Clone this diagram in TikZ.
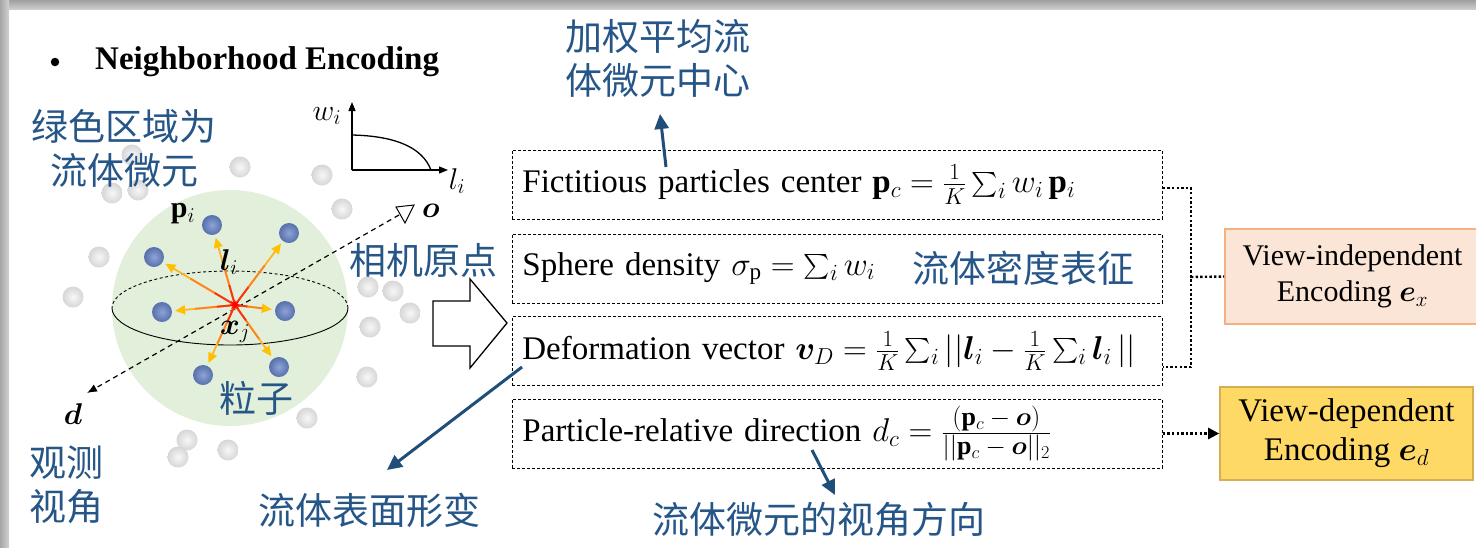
\RequirePackage{fix-cm}
\documentclass[tikz,border=0pt]{standalone}
\usepackage{amsmath,bm}
\usepackage{fontspec}
\setmainfont{Liberation Serif}
\newfontfamily\cjk{Noto Sans CJK SC}
\usetikzlibrary{arrows.meta,calc,shapes.geometric}

\definecolor{cblue}{RGB}{31,78,121}
\definecolor{cjkblue}{RGB}{38,86,136}
\definecolor{spherecol}{RGB}{226,239,218}
\definecolor{vifill}{RGB}{251,229,214}
\definecolor{vidraw}{RGB}{244,177,131}
\definecolor{vdfill}{RGB}{255,217,102}
\definecolor{vddraw}{RGB}{214,176,80}
\definecolor{amber}{RGB}{255,192,0}
\definecolor{rayA}{RGB}{255,180,40}
\definecolor{rayB}{RGB}{255,130,30}
\definecolor{rayC}{RGB}{250,50,20}

% larger pieces for the direction fraction
\newcommand{\fracpart}[1]{\mbox{\fontsize{26}{26}\selectfont$#1$}}

\begin{document}
\begin{tikzpicture}[x=1pt,y=-1pt,
  eqbox/.style={draw, line width=0.8pt, dash pattern=on 3pt off 2pt,
    text width=630pt, inner xsep=10pt, inner ysep=0pt, minimum height=69pt,
    align=left, anchor=west, font=\fontsize{33}{40}\selectfont},
  cjklab/.style={font=\cjk\fontsize{37}{44}\selectfont, text=cjkblue,
    align=center, inner sep=0pt},
  mathlab/.style={font=\fontsize{30}{34}\selectfont, inner sep=0pt},
  bluep/.style={circle, inner sep=0pt, minimum size=20pt,
    inner color={rgb,255:red,140;green,164;blue,214},
    outer color={rgb,255:red,88;green,112;blue,172}},
  grayp/.style={circle, inner sep=0pt, minimum size=21pt,
    inner color=gray!6, outer color=gray!32},
  bluearrow/.style={draw=cblue, line width=3pt,
    -{Triangle[length=15pt,width=14pt]}},
  dotline/.style={line width=2.4pt, dash pattern=on 2.4pt off 2.2pt},
  encbox/.style={align=center, inner sep=0pt, line width=1.6pt}
]
\useasboundingbox (0,0) rectangle (1476,547);
\fill[white] (0,0) rectangle (1476,547);

% ---------- heading ----------
\node[circle, fill=black, inner sep=0pt, minimum size=8.5pt] (bul) at (55,62) {};
\node[anchor=west, font=\bfseries\fontsize{33}{40}\selectfont, inner sep=0pt]
  (head) at (95,62) {Neighborhood Encoding};

% ---------- surrounding particles ----------
\foreach \n/\p in {g1/{(132,155)}, g2/{(112,193)}, g3/{(138,190)},
  g4/{(240,167)}, g5/{(322,175)}, g6/{(342,209)}, g7/{(99,257)},
  g8/{(73,297)}, g9/{(368,287)}, g10/{(393,291)}, g11/{(410,313)},
  g12/{(370,327)}, g13/{(367,377)}, g14/{(307,418)}, g15/{(187,440)},
  g16/{(178,457)}, g17/{(228,450)}}
  \node[grayp] (\n) at \p {};

% ---------- fluid element sphere ----------
\fill[spherecol] (230,308) circle[radius=118];
\draw[line width=0.9pt, dash pattern=on 3pt off 2.5pt]
  (348,308) arc[start angle=0, end angle=-180, x radius=118, y radius=37];
\draw[line width=0.9pt]
  (348,308) arc[start angle=0, end angle=180, x radius=118, y radius=37];

% viewing direction through the element
\coordinate (cam) at (399,215);
\coordinate (dtip) at (87,393);
\draw[line width=1.2pt, dash pattern=on 5pt off 4pt,
  -{Latex[length=10pt,width=8pt]}] (cam) -- (dtip);
\draw[line width=1pt, fill=white] (396,207) -- (414,205) -- (405,223) -- cycle;
\node[mathlab] (olab) at (431,211) {$\bm{o}$};
\node[mathlab] (dlab) at (73,414) {$\bm{d}$};

% neighbour particles and offsets l_i
\foreach \n/\p in {b1/{(212,225)}, b2/{(289,233)}, b3/{(154,257)},
  b4/{(162,312)}, b5/{(285,311)}, b6/{(203,375)}, b7/{(279,367)}}
  \node[bluep] (\n) at \p {};
\coordinate (xj) at (235,305);
\foreach \n in {b1,b2,b3,b4,b5,b6,b7}{
  \draw[rayA, line width=1.8pt, shorten >=3pt,
    -{Triangle[length=10pt,width=9pt,fill=amber,color=amber]}] (xj) -- (\n);
  \draw[rayB, line width=1.8pt] (xj) -- ($(xj)!0.55!(\n)$);
  \draw[rayC, line width=1.8pt] (xj) -- ($(xj)!0.25!(\n)$);
}
\node[star, star points=8, star point ratio=2.4, fill=red, inner sep=0pt,
  minimum size=11pt] (xjc) at (xj) {};
\node[mathlab] (plab) at (183,214) {$\mathbf{p}_i$};
\node[mathlab] (llab) at (229,262) {$\bm{l}_i$};
\node[mathlab] (xlab) at (235,332) {$\bm{x}_j$};

% weight fall-off sketch
\coordinate (gorig) at (352,170);
\coordinate (gy) at (352,102);
\coordinate (gx) at (448,170);
\draw[line width=1.3pt, -{Triangle[length=9pt,width=7pt]}] (gorig) -- (gy);
\draw[line width=1.3pt, -{Triangle[length=9pt,width=7pt]}] (gorig) -- (gx);
\draw[line width=1.3pt] (352,135) .. controls (395,136) and (422,147) .. (431,170);
\node[mathlab] (wlab) at (327,116) {$w_i$};
\node[mathlab] (lilab) at (457,181) {$l_i$};

% ---------- annotations on the left ----------
\node[cjklab] (green) at (124,148) {绿色区域为\\流体微元};
\node[cjklab] (parts) at (256,398) {粒子};
\node[cjklab] (cam0) at (423,260) {相机原点};
\node[cjklab] (view) at (67,485) {观测\\视角};

% ---------- hollow arrow ----------
\draw[line width=1.3pt, fill=white] (433,301) -- (470,301) -- (470,279)
  -- (507,323) -- (470,368) -- (470,346) -- (433,346) -- cycle;

% ---------- feature boxes ----------
\node[eqbox] (box1) at (512,184.5)
  {Fictitious particles center $\mathbf{p}_c = \frac{1}{K}\sum_i w_i\,\mathbf{p}_i$};
\node[eqbox] (box2) at (512,268.5)
  {Sphere density $\sigma_{\mathrm{p}} = \sum_i w_i$};
\node[cjklab] (dens) at (1023,268) {流体密度表征};
\node[eqbox] (box3) at (512,351)
  {Deformation vector $\bm{v}_D = \frac{1}{K}\sum_i ||\bm{l}_i - \frac{1}{K}\sum_i \bm{l}_i\,||$};
\node[eqbox] (box4) at (512,433.5)
  {Particle-relative direction $d_c = \frac{\fracpart{(\mathbf{p}_c - \bm{o})}}{\fracpart{||\mathbf{p}_c - \bm{o}||_2}}$};

% ---------- encodings ----------
\node[encbox, draw=vidraw, fill=vifill, minimum width=255pt, minimum height=95pt,
  font=\fontsize{30}{36}\selectfont] (vi) at (1352.5,276.5)
  {View-independent\\Encoding $\bm{e}_x$};
\node[encbox, draw=vddraw, fill=vdfill, minimum width=253pt, minimum height=93pt,
  font=\fontsize{33}{39}\selectfont] (vd) at (1346.5,433.5)
  {View-dependent\\Encoding $\bm{e}_d$};

\coordinate (jn) at (1191,277);
\draw[dotline] ([yshift=-3.5pt]box1.east) -| (jn) |- ([yshift=-16pt]box3.east);
\draw[dotline] (jn) -- (vi.west);
\draw[dotline, -{Triangle[length=11pt,width=11pt]}] (box4.east) -- (vd.west);

% ---------- callouts ----------
\node[cjklab] (center) at (658,58) {加权平均流\\体微元中心};
\node[cjklab] (surf) at (369,510) {流体表面形变};
\node[cjklab] (dirn) at (819,519) {流体微元的视角方向};
\coordinate (c1s) at (666,167);
\coordinate (c1e) at (660,114);
\coordinate (c2s) at (522,367);
\coordinate (c2e) at (387,470);
\coordinate (c3s) at (812,450);
\coordinate (c3e) at (835,495);
\draw[bluearrow] (c1s) -- (c1e);
\draw[bluearrow] (c2s) -- (c2e);
\draw[bluearrow] (c3s) -- (c3e);

% ---------- window frame shadow ----------
\shade[top color=gray!75, bottom color=gray!40] (0,0) rectangle (1476,9);
\shade[left color=gray!70, right color=gray!35] (0,0) rectangle (9,547);
\end{tikzpicture}
\end{document}
